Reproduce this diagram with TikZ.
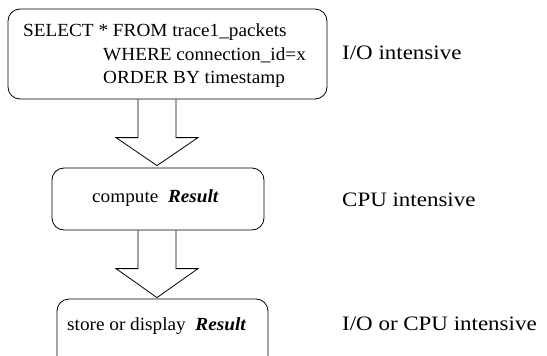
\documentclass[tikz,border=0pt]{standalone}
\usepackage{fontspec}
\setmainfont{Liberation Serif}
\newfontfamily\boxfont[FakeStretch=1.04]{Liberation Serif}
\newfontfamily\labelfont[FakeStretch=1.12]{Liberation Serif}
\usetikzlibrary{calc}
\begin{document}
\begin{tikzpicture}[x=1pt,y=-1pt,
  stage/.style={draw, rounded corners=12pt, line width=0.8pt, inner sep=0pt},
  sqltext/.style={anchor=base west, inner sep=0pt, font=\boxfont\fontsize{18.5}{22}\selectfont},
  steptext/.style={anchor=base west, inner sep=0pt, font=\boxfont\fontsize{18.5}{22}\selectfont},
  costlabel/.style={anchor=base west, inner sep=0pt, font=\labelfont\fontsize{20.5}{24}\selectfont},
  flowarrow/.style={draw, line width=0.8pt, line join=miter}]
  \useasboundingbox (0,0) rectangle (547,356);
  \clip (0,0) rectangle (547,356);

  % processing stages
  \node[stage, minimum width=319pt, minimum height=90pt] (q) at (167.5,54) {};
  \node[stage, minimum width=212pt, minimum height=62pt] (c) at (158,199) {};
  \node[stage, minimum width=211pt, minimum height=80pt] (s) at (162.5,339) {};

  % query text
  \node[sqltext] (q1) at (23,37) {SELECT * FROM trace1\_packets};
  \node[sqltext] (q2) at (103,60) {WHERE connection\_id=x};
  \node[sqltext] (q3) at (103,83) {ORDER BY timestamp};

  \node[steptext] (ct) at (92,202) {compute\ \ \textbf{\textit{Result}}};
  \node[steptext] (st) at (67,330) {store or display\ \ \textbf{\textit{Result}}};

  % hollow block arrows between stages: shaft 38 wide, head 82 wide, 28 deep
  \coordinate (a1) at (157,0);
  \coordinate (h1) at ($(c.north -| a1)+(0,-2)$);
  \draw[flowarrow]
    ($(q.south -| a1)+(-19,0)$) -- ($(h1)+(-19,-28)$) -- ($(h1)+(-41,-28)$)
    -- (h1) -- ($(h1)+(41,-28)$) -- ($(h1)+(19,-28)$) -- ($(q.south -| a1)+(19,0)$);
  \coordinate (h2) at ($(s.north -| a1)+(0,-1)$);
  \draw[flowarrow]
    ($(c.south -| a1)+(-19,0)$) -- ($(h2)+(-19,-29)$) -- ($(h2)+(-41,-29)$)
    -- (h2) -- ($(h2)+(41,-29)$) -- ($(h2)+(19,-29)$) -- ($(c.south -| a1)+(19,0)$);

  % cost annotations
  \node[costlabel] (l1) at (342,59) {I/O intensive};
  \node[costlabel] (l2) at (342,206) {CPU intensive};
  \node[costlabel] (l3) at (342,330) {I/O or CPU intensive};
\end{tikzpicture}
\end{document}
